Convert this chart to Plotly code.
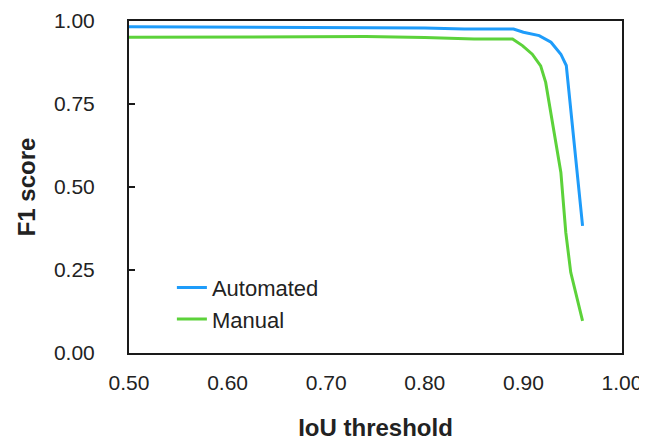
import plotly.graph_objects as go

# IoU threshold values and F1 scores
auto_x = [0.50, 0.60, 0.70, 0.74, 0.80, 0.84, 0.89, 0.90, 0.916, 0.928, 0.938, 0.9435, 0.96]
auto_y = [0.983, 0.982, 0.981, 0.980, 0.979, 0.976, 0.976, 0.966, 0.956, 0.936, 0.900, 0.866, 0.383]

manual_x = [0.50, 0.60, 0.74, 0.80, 0.84, 0.85, 0.889, 0.899, 0.909, 0.9175, 0.9226, 0.931, 0.938, 0.943, 0.948, 0.96]
manual_y = [0.951, 0.952, 0.953, 0.950, 0.947, 0.946, 0.946, 0.926, 0.900, 0.865, 0.815, 0.664, 0.544, 0.363, 0.243, 0.097]

x_ticks = [0.50, 0.60, 0.70, 0.80, 0.90, 1.00]
y_ticks = [0.00, 0.25, 0.50, 0.75, 1.00]

FONT = "Liberation Sans, Arial, Helvetica, sans-serif"

fig = go.Figure()
fig.add_trace(go.Scatter(x=auto_x, y=auto_y, mode="lines", name="Automated",
                         line=dict(color="#1E9CFA", width=3)))
fig.add_trace(go.Scatter(x=manual_x, y=manual_y, mode="lines", name="Manual",
                         line=dict(color="#5CD23A", width=3)))

# page body has an 8px margin, so the figure is 8px smaller than the window
fig.update_layout(
    width=639, height=433,
    margin=dict(l=121, r=25, t=13, b=88),
    paper_bgcolor="white", plot_bgcolor="white",
    font=dict(family=FONT, size=21, color="#222222"),
    showlegend=True,
    legend=dict(x=0.087, y=0.26, xanchor="left", yanchor="top",
                bgcolor="rgba(0,0,0,0)", font=dict(size=22)),
)
fig.update_xaxes(range=[0.5, 1.0], tickvals=x_ticks, tickformat=".2f",
                 automargin=False,
                 showgrid=False, zeroline=False,
                 showline=True, linecolor="#1a1a1a", linewidth=2, mirror=True,
                 ticks="", ticklabelstandoff=10, tickfont=dict(size=21),
                 title=dict(text="<b>IoU threshold</b>", font=dict(size=24), standoff=30))
fig.update_yaxes(range=[0, 1.0], tickvals=y_ticks, tickformat=".2f",
                 automargin=False,
                 showgrid=False, zeroline=False,
                 showline=True, linecolor="#1a1a1a", linewidth=2, mirror=True,
                 ticks="inside", ticklen=6, tickwidth=2, tickcolor="#1a1a1a",
                 ticklabelstandoff=28, tickfont=dict(size=21),
                 title=dict(text="<b>F1 score</b>", font=dict(size=24), standoff=12))

fig.write_html("out.html")
